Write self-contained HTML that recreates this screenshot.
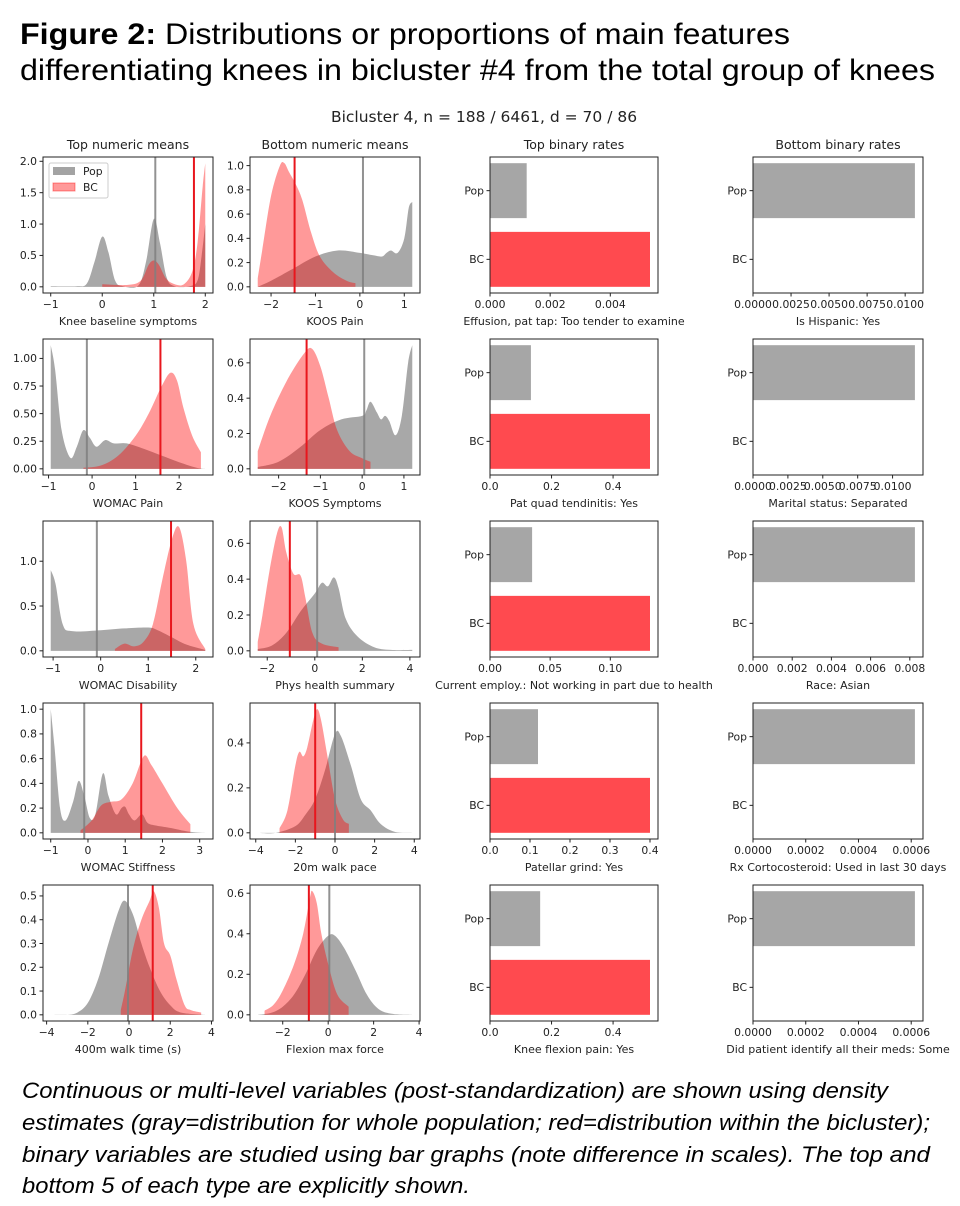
<!DOCTYPE html>
<html><head><meta charset="utf-8"><style>
html,body{margin:0;padding:0;background:#fff;}
svg{display:block;}
text{font-family:"DejaVu Sans","Liberation Sans",sans-serif;fill:#222;}
.t{font-family:"Liberation Sans",Arial,sans-serif;fill:#000;}
</style></head><body>
<svg id="fig" width="960" height="1206" viewBox="0 0 960 1206" xmlns="http://www.w3.org/2000/svg">
<text class="t" x="20" y="44" font-size="30" textLength="770" lengthAdjust="spacingAndGlyphs"><tspan font-weight="bold">Figure 2:</tspan> Distributions or proportions of main features</text>
<text class="t" x="20" y="80" font-size="30" textLength="915" lengthAdjust="spacingAndGlyphs">differentiating knees in bicluster #4 from the total group of knees</text>
<text x="484" y="122" font-size="15.5" text-anchor="middle">Bicluster 4, n = 188 / 6461, d = 70 / 86</text>
<text x="128" y="149" font-size="12.5" text-anchor="middle">Top numeric means</text>
<text x="335" y="149" font-size="12.5" text-anchor="middle">Bottom numeric means</text>
<text x="574" y="149" font-size="12.5" text-anchor="middle">Top binary rates</text>
<text x="838" y="149" font-size="12.5" text-anchor="middle">Bottom binary rates</text>
<g id="panels"></g>
<text class="t" x="22" y="1098" font-size="22" font-style="italic" textLength="866" lengthAdjust="spacingAndGlyphs">Continuous or multi-level variables (post-standardization) are shown using density</text>
<text class="t" x="22" y="1130" font-size="22" font-style="italic" textLength="908" lengthAdjust="spacingAndGlyphs">estimates (gray=distribution for whole population; red=distribution within the bicluster);</text>
<text class="t" x="22" y="1162" font-size="22" font-style="italic" textLength="908" lengthAdjust="spacingAndGlyphs">binary variables are studied using bar graphs (note difference in scales).  The top and</text>
<text class="t" x="22" y="1193" font-size="22" font-style="italic" textLength="448" lengthAdjust="spacingAndGlyphs">bottom 5 of each type are explicitly shown.</text>
</svg>
<script>
// ---- density data (x, density) ----
const knPop=[[-1,.01],[-0.5,.01],[-0.3,.05],[-0.15,.4],[0,.8],[0.12,.55],[0.25,.1],[0.4,.01],[0.7,.02],[0.85,.4],[1,1.08],[1.12,.7],[1.25,.15],[1.4,.01],[1.7,.01],[1.85,.1],[1.93,.5],[2,1.0]];
const knBC=[[0,.04],[0.5,.03],[0.75,.1],[0.9,.35],[1,.42],[1.1,.35],[1.25,.12],[1.45,.03],[1.6,.05],[1.75,.25],[1.85,.7],[1.95,1.6],[2,1.97]];
const kpPop=[[-2.3,.0],[-2,.05],[-1.5,.15],[-1,.25],[-0.5,.3],[0,.28],[0.3,.26],[0.5,.25],[0.6,.28],[0.7,.3],[0.85,.28],[1.0,.4],[1.1,.65],[1.18,.7]];
const kpBC=[[-2.3,.07],[-2.2,.3],[-2,.75],[-1.8,1.0],[-1.7,1.02],[-1.6,.95],[-1.45,.85],[-1.3,.72],[-1.1,.45],[-0.9,.25],[-0.6,.12],[-0.3,.05],[-0.1,.03]];
const wpPop=[[-0.95,1.12],[-0.85,.9],[-0.7,.35],[-0.5,.1],[-0.35,.2],[-0.2,.35],[-0.05,.28],[0.1,.2],[0.3,.26],[0.5,.23],[0.8,.23],[1.2,.18],[1.6,.12],[2.0,.06],[2.4,.01],[2.6,0]];
const wpBC=[[-0.2,.01],[0.2,.03],[0.6,.12],[1.0,.3],[1.3,.5],[1.6,.75],[1.8,.87],[1.95,.8],[2.1,.55],[2.3,.3],[2.5,.15]];
const ksPop=[[-2.5,.01],[-2,.04],[-1.5,.12],[-1,.22],[-0.5,.28],[0,.3],[0.1,.33],[0.2,.38],[0.35,.32],[0.45,.28],[0.55,.3],[0.65,.27],[0.8,.19],[0.95,.3],[1.1,.6],[1.2,.7]];
const ksBC=[[-2.5,.1],[-2.2,.3],[-1.8,.5],[-1.4,.65],[-1.2,.68],[-1.0,.58],[-0.8,.4],[-0.6,.22],[-0.3,.1],[0,.06],[0.2,.04]];
const wdPop=[[-1.05,.9],[-0.95,.75],[-0.8,.3],[-0.6,.22],[0,.23],[0.5,.25],[1.0,.26],[1.2,.23],[1.5,.15],[1.8,.07],[2.2,.01]];
const wdBC=[[0.3,.02],[0.5,.08],[0.7,.05],[0.9,.1],[1.1,.3],[1.3,.8],[1.5,1.25],[1.65,1.38],[1.8,1.0],[1.95,.3],[2.2,.02]];
const phPop=[[-2.4,.01],[-1.8,.03],[-1.2,.1],[-0.6,.22],[0,.32],[0.3,.38],[0.55,.36],[0.8,.41],[1.0,.35],[1.3,.18],[1.8,.08],[2.5,.02],[3.2,.005],[4.1,.005]];
const phBC=[[-2.4,.05],[-2.2,.2],[-1.9,.45],[-1.6,.65],[-1.4,.69],[-1.2,.55],[-0.9,.43],[-0.6,.42],[-0.4,.3],[-0.1,.1],[0.3,.04],[1.0,.02]];
const wsPop=[[-1,1.0],[-0.9,.7],[-0.75,.2],[-0.6,.1],[-0.4,.25],[-0.25,.42],[-0.1,.3],[0.05,.12],[0.2,.15],[0.4,.48],[0.55,.3],[0.75,.15],[0.9,.2],[1.0,.21],[1.1,.15],[1.25,.1],[1.45,.15],[1.6,.08],[1.8,.06],[2.2,.04],[2.7,.01],[3.15,0]];
const wsBC=[[-0.2,.02],[0.1,.1],[0.35,.22],[0.6,.25],[0.9,.27],[1.2,.4],[1.5,.62],[1.7,.55],[2.0,.4],[2.4,.2],[2.75,.07]];
const wkPop=[[-3.9,0],[-3,0],[-2,.03],[-1.5,.08],[-1,.15],[-0.5,.28],[0,.44],[0.3,.43],[0.8,.3],[1.3,.15],[1.8,.1],[2.3,.04],[3,.005],[3.9,0]];
const wkBC=[[-2.8,.02],[-2.4,.1],[-2.0,.3],[-1.8,.36],[-1.6,.34],[-1.4,.38],[-1.1,.5],[-0.9,.55],[-0.7,.5],[-0.4,.35],[0,.15],[0.4,.06],[0.7,.04]];
const w4Pop=[[-3.8,0],[-3,0],[-2.5,.01],[-2,.05],[-1.5,.15],[-1,.3],[-0.5,.44],[-0.2,.48],[0.2,.42],[0.6,.3],[1.0,.2],[1.5,.1],[2,.04],[2.5,.01],[3.7,0]];
const w4BC=[[-0.4,.02],[-0.2,.1],[0.2,.28],[0.6,.4],[1.0,.48],[1.2,.52],[1.45,.45],[1.7,.3],[2.0,.25],[2.3,.15],[2.7,.04],[3.0,.02],[3.5,.01]];
const fxPop=[[-3.1,0],[-2.5,.01],[-2,.04],[-1.5,.1],[-1,.2],[-0.5,.32],[0,.39],[0.3,.39],[0.7,.33],[1.2,.22],[1.7,.1],[2.2,.03],[2.8,.005],[3.7,0]];
const fxBC=[[-2.8,.02],[-2.4,.05],[-2,.12],[-1.5,.25],[-1.1,.4],[-0.8,.58],[-0.7,.61],[-0.5,.55],[-0.3,.4],[0,.25],[0.4,.1],[0.9,.04]];
// means [pop, bc]
const knMeans=[1.03,1.78], kpMeans=[0.07,-1.47], wpMeans=[-0.12,1.57], ksMeans=[0.05,-1.33], wdMeans=[-0.08,1.48];
const phMeans=[0.1,-1.05], wsMeans=[-0.1,1.43], wkMeans=[0.0,-1.0], w4Means=[-0.05,1.15], fxMeans=[0.05,-0.85];
// ---- binary rates [Pop, BC] ----
const topRates=[[0.00122,0.00532],[0.133,0.52],[0.035,0.133],[0.12,0.4],[0.163,0.52]];
const botRates=[[0.01064,0],[0.0116,0],[0.00826,0],[0.000614,0],[0.000614,0]];
const topTicks=[[0,0.002,0.004],[0,0.2,0.4],[0,0.05,0.10],[0,0.1,0.2,0.3,0.4],[0,0.2,0.4]];
const topTickLabels=[["0.000","0.002","0.004"],["0.0","0.2","0.4"],["0.00","0.05","0.10"],["0.0","0.1","0.2","0.3","0.4"],["0.0","0.2","0.4"]];
const botTicks=[[0,0.0025,0.005,0.0075,0.01],[0,0.0025,0.005,0.0075,0.01],[0,0.002,0.004,0.006,0.008],[0,0.0002,0.0004,0.0006],[0,0.0002,0.0004,0.0006]];
const botTickLabels=[["0.0000","0.0025","0.0050","0.0075","0.0100"],["0.0000","0.0025","0.0050","0.0075","0.0100"],["0.000","0.002","0.004","0.006","0.008"],["0.0000","0.0002","0.0004","0.0006"],["0.0000","0.0002","0.0004","0.0006"]];
const topLabels=["Effusion, pat tap: Too tender to examine","Pat quad tendinitis: Yes","Current employ.: Not working in part due to health","Patellar grind: Yes","Knee flexion pain: Yes"];
const botLabels=["Is Hispanic: Yes","Marital status: Separated","Race: Asian","Rx Cortocosteroid: Used in last 30 days","Did patient identify all their meds: Some"];

const NS="http://www.w3.org/2000/svg";
const root=document.getElementById('panels');
const rowTop=[157,339,521,703,885], H=136;
const colX=[[43,213],[250,420],[490,658],[753,923]];
const TF=10.8, LF=11;
function mk(tag,attrs,parent){const e=document.createElementNS(NS,tag);for(const k in attrs)e.setAttribute(k,attrs[k]);(parent||root).appendChild(e);return e;}
function txt(s,x,y,size,anchor,parent){const e=mk('text',{x:x,y:y,'font-size':size,'text-anchor':anchor||'middle'},parent);e.textContent=s;return e;}
function smoothPath(pts){let d='M'+pts[0][0]+','+pts[0][1];
 for(let i=0;i<pts.length-1;i++){const p0=pts[i-1]||pts[i],p1=pts[i],p2=pts[i+1],p3=pts[i+2]||p2;
  const c1=[p1[0]+(p2[0]-p0[0])/6,p1[1]+(p2[1]-p0[1])/6],c2=[p2[0]-(p3[0]-p1[0])/6,p2[1]-(p3[1]-p1[1])/6];
  d+=' C'+c1[0]+','+c1[1]+' '+c2[0]+','+c2[1]+' '+p2[0]+','+p2[1];}
 return d;}

function density(r,c,name,pop,bc,means,xt,yt,ytl,xlabel){
 const g=mk('g',{});
 
 
 const [L,R]=colX[c],T=rowTop[r],B=T+H;
 const xs=pop.concat(bc).map(p=>p[0]),ys=pop.concat(bc).map(p=>p[1]);
 let x0=Math.min(...xs),x1=Math.max(...xs),ymax=Math.max(...ys);
 const px=(x1-x0)*0.05;x0-=px;x1+=px;const y0=-ymax*0.05,y1=ymax*1.05;
 const sx=v=>L+(v-x0)/(x1-x0)*(R-L), sy=v=>B-(v-y0)/(y1-y0)*H;
 [[pop,'#a3a3a3',0.95,'pop-density'],[bc,'#ff0000',0.4,'bc-density']].forEach(([d,col,op,nm])=>{
  const pts=d.map(p=>[sx(p[0]),sy(p[1])]);
  let path=smoothPath(pts)+' L'+pts[pts.length-1][0]+','+sy(0)+' L'+pts[0][0]+','+sy(0)+' Z';
  const e=mk('path',{d:path,fill:col,'fill-opacity':op,stroke:'none'},g);
  
  
 });
 const m1=mk('line',{x1:sx(means[0]),x2:sx(means[0]),y1:T,y2:B,stroke:'#7f7f7f','stroke-width':2,'stroke-opacity':0.85},g);
 
 
 const m2=mk('line',{x1:sx(means[1]),x2:sx(means[1]),y1:T,y2:B,stroke:'#e8161d','stroke-width':2},g);
 
 
 mk('rect',{x:L,y:T,width:R-L,height:H,fill:'none',stroke:'#222','stroke-width':1},g);
 xt.forEach(v=>{const x=sx(v);mk('line',{x1:x,x2:x,y1:B,y2:B+3.5,stroke:'#222'},g);
  const t=txt(v<0?'\u2212'+(-v):String(v),x,B+15,TF,'middle',g);
  
  });
 yt.forEach((v,i)=>{const y=sy(v);mk('line',{x1:L-3.5,x2:L,y1:y,y2:y,stroke:'#222'},g);
  const t=txt(ytl[i],L-6,y+3.8,TF,'end',g);
  
  });
 const xl=txt(xlabel,(L+R)/2,B+32,LF,'middle',g);
 
 
 return g;
}
function bars(r,c,name,vals,ticks,tl,label){
 const g=mk('g',{});
 
 
 const [L,R]=colX[c],T=rowTop[r],B=T+H;
 const xmax=Math.max(...vals)*1.05;
 const sx=v=>L+v/xmax*(R-L), sy=v=>B-(v+0.49)/1.98*H;
 const cats=['Pop','BC'],pos=[1,0],cols=['#a6a6a6','#ff4a4f'];
 vals.forEach((v,i)=>{const yc=sy(pos[i]);
  const b=mk('rect',{x:L,y:sy(pos[i]+0.4),width:Math.max(0,sx(v)-L),height:sy(pos[i]-0.4)-sy(pos[i]+0.4),fill:cols[i]},g);
  
  
  mk('line',{x1:L-3.5,x2:L,y1:yc,y2:yc,stroke:'#222'},g);
  const t=txt(cats[i],L-6,yc+3.8,TF,'end',g);
  
  });
 mk('rect',{x:L,y:T,width:R-L,height:H,fill:'none',stroke:'#222','stroke-width':1},g);
 ticks.forEach((v,i)=>{const x=sx(v);mk('line',{x1:x,x2:x,y1:B,y2:B+3.5,stroke:'#222'},g);
  const t=txt(tl[i],x,B+15,TF,'middle',g);
  
  });
 const xl=txt(label,(L+R)/2,B+32,LF,'middle',g);
 
 
}
density(0,0,'knee-baseline-symptoms',knPop,knBC,knMeans,[-1,0,1,2],[0,0.5,1,1.5,2],['0.0','0.5','1.0','1.5','2.0'],'Knee baseline symptoms');
density(0,1,'koos-pain',kpPop,kpBC,kpMeans,[-2,-1,0,1],[0,0.2,0.4,0.6,0.8,1],['0.0','0.2','0.4','0.6','0.8','1.0'],'KOOS Pain');
density(1,0,'womac-pain',wpPop,wpBC,wpMeans,[-1,0,1,2],[0,0.25,0.5,0.75,1],['0.00','0.25','0.50','0.75','1.00'],'WOMAC Pain');
density(1,1,'koos-symptoms',ksPop,ksBC,ksMeans,[-2,-1,0,1],[0,0.2,0.4,0.6],['0.0','0.2','0.4','0.6'],'KOOS Symptoms');
density(2,0,'womac-disability',wdPop,wdBC,wdMeans,[-1,0,1,2],[0,0.5,1],['0.0','0.5','1.0'],'WOMAC Disability');
density(2,1,'phys-health-summary',phPop,phBC,phMeans,[-2,0,2,4],[0,0.2,0.4,0.6],['0.0','0.2','0.4','0.6'],'Phys health summary');
density(3,0,'womac-stiffness',wsPop,wsBC,wsMeans,[-1,0,1,2,3],[0,0.2,0.4,0.6,0.8,1],['0.0','0.2','0.4','0.6','0.8','1.0'],'WOMAC Stiffness');
density(3,1,'walk-pace-20m',wkPop,wkBC,wkMeans,[-4,-2,0,2,4],[0,0.2,0.4],['0.0','0.2','0.4'],'20m walk pace');
density(4,0,'walk-time-400m',w4Pop,w4BC,w4Means,[-4,-2,0,2,4],[0,0.1,0.2,0.3,0.4,0.5],['0.0','0.1','0.2','0.3','0.4','0.5'],'400m walk time (s)');
density(4,1,'flexion-max-force',fxPop,fxBC,fxMeans,[-2,0,2,4],[0,0.2,0.4,0.6],['0.0','0.2','0.4','0.6'],'Flexion max force');
for(let i=0;i<5;i++){bars(i,2,'top-binary-'+(i+1),topRates[i],topTicks[i],topTickLabels[i],topLabels[i]);
 bars(i,3,'bottom-binary-'+(i+1),botRates[i],botTicks[i],botTickLabels[i],botLabels[i]);}
// legend
const lg=mk('g',{});


mk('rect',{x:49,y:163,width:59,height:35,fill:'#fff','fill-opacity':0.8,stroke:'#ccc',rx:2},lg);
const lp=mk('rect',{x:53,y:167,width:22,height:8,fill:'#a3a3a3'},lg);


txt('Pop',83,175,TF,'start',lg);
const lb=mk('rect',{x:53,y:183,width:22,height:8,fill:'#ff0000','fill-opacity':0.4,stroke:'#ff0000','stroke-opacity':0.4},lg);


txt('BC',83,191,TF,'start',lg);
</script>
</body></html>
